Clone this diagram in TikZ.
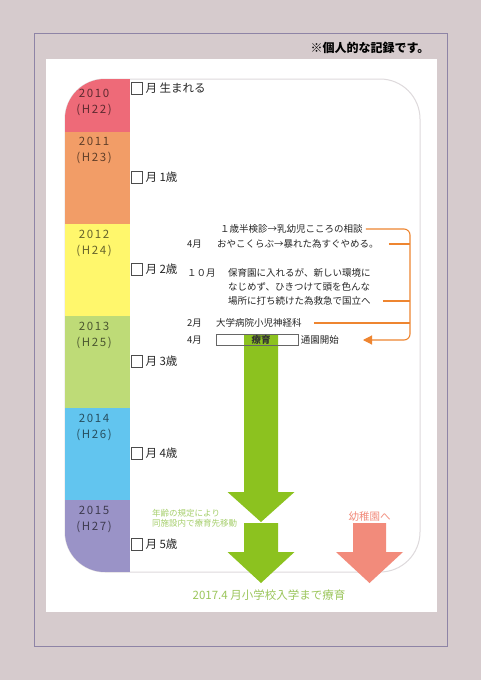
\documentclass[tikz,border=0pt]{standalone}
\usepackage{fontspec}
\setmainfont{Noto Sans CJK JP}
\newfontfamily\yearfont[LetterSpace=14]{Noto Sans CJK JP}
\usetikzlibrary{positioning, arrows.meta}
\definecolor{pagebg}{HTML}{D6CBCD}
\definecolor{framepurple}{HTML}{8E84A6}
\definecolor{framegray}{HTML}{DEDADC}
\definecolor{y2010}{HTML}{EE6A78}
\definecolor{y2011}{HTML}{F29D67}
\definecolor{y2012}{HTML}{FFF76C}
\definecolor{y2013}{HTML}{BEDB77}
\definecolor{y2014}{HTML}{62C5EF}
\definecolor{y2015}{HTML}{9A93C7}
\definecolor{ryoiku}{HTML}{8CC21F}
\definecolor{ryoikutext}{HTML}{9CC65C}
\definecolor{ryoikulight}{HTML}{A6CF6C}
\definecolor{youchien}{HTML}{F28B7B}
\definecolor{linkorange}{HTML}{EE8530}

\begin{document}
\begin{tikzpicture}[x=1pt, y=-1pt,
        yearlabel/.style = {align=center, font=\yearfont\fontsize{11.5}{16}\selectfont, inner sep=0pt},
        chkbox/.style = {draw=black!70, line width=0.6pt, minimum width=11pt, minimum height=12pt, inner sep=0pt},
        agelabel/.style = {font=\fontsize{11.5}{13}\selectfont, inner sep=0pt, text=black!85},
        event/.style = {font=\fontsize{9.5}{14}\selectfont, inner sep=0pt, anchor=west, text=black!85},
        link/.style = {draw=linkorange, line width=1.1pt, rounded corners=6pt}
    ]

        % Page and frame
        \fill[pagebg] (0,0) rectangle (481,680);
        \draw[framepurple, line width=0.8pt] (34,33) rectangle (447,646);
        \fill[white] (46,59) rectangle (437,612);
        \node[anchor=east, font=\fontsize{12}{14}\selectfont\bfseries] (note) at (433,48) {※個人的な記録です。};

        % Timeline
        \draw[framegray, line width=1pt, rounded corners=40pt] (65,79) rectangle (420,572);
        \begin{scope}
            \clip[rounded corners=40pt] (65,79) rectangle (420,572);
            \foreach \yr/\top/\bot in {2010/79/132, 2011/132/224, 2012/224/316, 2013/316/408, 2014/408/500, 2015/500/572}
                \fill[y\yr] (65,\top) rectangle (130,\bot);
        \end{scope}
        \foreach \yr/\h/\mid in {2010/22/102, 2011/23/150, 2012/24/243, 2013/25/335, 2014/26/427, 2015/27/519}
            \node[yearlabel, text=y\yr!40!black] (lbl\yr) at (94,\mid) {\yr\\(H\h)};

        % Ages
        \foreach \n/\yy/\txt in {0/88/生まれる, 1/177/1歳, 2/269/2歳, 3/361/3歳, 4/453/4歳, 5/544/5歳} {
            \node[chkbox] (chk\n) at (136.5,\yy) {};
            \node[agelabel, right=3pt of chk\n] (age\n) {月 \txt};
        }

        % Events
        \node[event] (ev1) at (220,229) {１歳半検診→乳幼児こころの相談};
        \node[event] (ev2m) at (187,244) {4月};
        \node[event] (ev2) at (217,244) {おやこくらぶ→暴れた為すぐやめる。};
        \node[event] (ev3m) at (187,273) {１０月};
        \node[event] (ev3a) at (228,273) {保育園に入れるが、新しい環境に};
        \node[event] (ev3b) at (228,287) {なじめず、ひきつけて頭を色んな};
        \node[event] (ev3c) at (228,301) {場所に打ち続けた為救急で国立へ};
        \node[event] (ev4m) at (187,323) {2月};
        \node[event] (ev4) at (216,323) {大学病院小児神経科};
        \node[event] (ev5m) at (187,340) {4月};

        % Ryoiku arrows
        \fill[ryoiku] (244,334) -- (278,334) -- (278,492) -- (294.5,492) -- (261,522) -- (227.5,492) -- (244,492) -- cycle;
        \fill[ryoiku] (244,523) -- (278,523) -- (278,552) -- (294.5,552) -- (261,583) -- (227.5,552) -- (244,552) -- cycle;
        \fill[youchien] (353,523) -- (386,523) -- (386,552) -- (403,552) -- (369.5,583) -- (336,552) -- (353,552) -- cycle;

        \node[draw=black!60, line width=0.6pt, minimum width=82pt, minimum height=11pt, inner sep=0pt, anchor=west] (ryoikubox) at (216,340) {};
        \node[font=\fontsize{9.5}{11}\selectfont\bfseries, text=black!80] (ryoikulbl) at (261,340) {療育};
        \node[event, right=2pt of ryoikubox] (ev5) {通園開始};

        \node[font=\fontsize{8.5}{10}\selectfont, text=ryoikulight, align=left, anchor=west, inner sep=0pt] (move) at (152,518) {年齢の規定により\\同施設内で療育先移動};
        \node[font=\fontsize{10.5}{12}\selectfont, text=youchien] (youchienlbl) at (369.5,517) {幼稚園へ};
        \node[font=\fontsize{11.5}{13}\selectfont, text=ryoikutext] (goal) at (269,595) {2017.4 月小学校入学まで療育};

        % Links
        \coordinate (bus) at (410,0);
        \draw[link, shorten <=3pt, shorten >=24pt, -{Triangle[length=9pt, width=9pt]}] (ev1.east) -- (ev1.east -| bus) -- (bus |- ev5.east) -- (ev5.east);
        \draw[link, shorten <=10pt] (ev2.east) -- (ev2.east -| bus);
        \draw[link, shorten <=12pt] (ev3c.east) -- (ev3c.east -| bus);
        \draw[link, shorten <=12pt] (ev4.east) -- (ev4.east -| bus);

    \end{tikzpicture}
\end{document}
